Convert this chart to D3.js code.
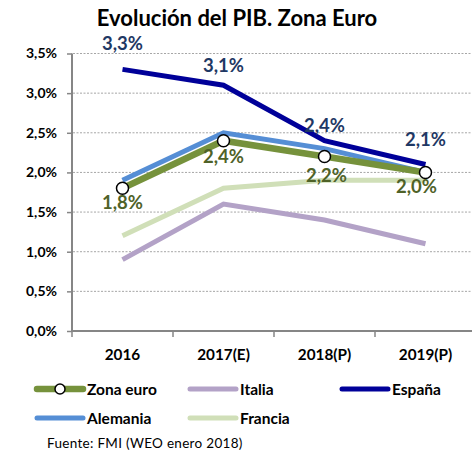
<!DOCTYPE html>
<html><head><meta charset="utf-8">
<script src="https://cdn.jsdelivr.net/npm/d3@7"></script>
<style>body{margin:0;background:#fff}svg{display:block}text{font-family:Lato,"Open Sans",sans-serif}</style>
</head><body><svg id="c" width="473" height="452"></svg>
<script>
const categories = ["2016","2017(E)","2018(P)","2019(P)"];
const zonaEuro = [1.8, 2.4, 2.2, 2.0];
const italia = [0.9, 1.6, 1.4, 1.1];
const espana = [3.3, 3.1, 2.4, 2.1];
const alemania = [1.9, 2.5, 2.3, 2.0];
const francia = [1.2, 1.8, 1.9, 1.9];
const yTicks = [0, 0.5, 1.0, 1.5, 2.0, 2.5, 3.0, 3.5];
const seriesNames = ["Zona euro","Italia","España","Alemania","Francia"];

const svg = d3.select("#c");
const fmt = v => v.toFixed(1).replace(".", ",") + "%";
const x = d3.scaleBand().domain(categories).range([72, 476]);
const y = d3.scaleLinear().domain([0, 3.5]).range([331, 53.5]);
const cx = c => x(c) + x.bandwidth()/2;

// title
svg.append("text").attr("x", 237).attr("y", 26).attr("text-anchor","middle")
  .attr("font-size", 22).attr("font-weight", 700).attr("fill","#000")
  .text("Evolución del PIB. Zona Euro");

// gridlines
svg.append("g").selectAll("line").data(yTicks.filter(t=>t>0)).join("line")
  .attr("x1", 73).attr("x2", 472).attr("y1", d=>y(d)).attr("y2", d=>y(d))
  .attr("stroke", "#a6a6a6").attr("stroke-width", 1).attr("stroke-dasharray","2,1.5");

// y axis
const yAxis = d3.axisLeft(y).tickValues(yTicks).tickFormat(fmt).tickSize(5).tickPadding(10);
const gy = svg.append("g").attr("transform","translate(72,0)").call(yAxis);
gy.select(".domain").attr("stroke","#868686").attr("stroke-width",2).attr("d","M0,"+y(0)+"V"+y(3.5));
gy.selectAll(".tick line").attr("stroke","#868686").attr("stroke-width",1.5);
gy.selectAll(".tick text").attr("font-size",14).attr("font-weight",700).attr("fill","#000")
  .attr("font-family","Lato,sans-serif");

// x axis
const xAxis = d3.axisBottom(x).tickSize(0).tickPadding(18);
const gx = svg.append("g").attr("transform","translate(0,331)").call(xAxis);
gx.select(".domain").attr("stroke","#868686").attr("stroke-width",2).attr("d","M71,0H472");
gx.selectAll(".tick text").attr("font-size",15.3).attr("font-weight",700).attr("fill","#000")
  .attr("font-family","Lato,sans-serif");
svg.append("g").selectAll("line").data(categories).join("line")
  .attr("x1", d=>x(d)).attr("x2", d=>x(d)).attr("y1",331).attr("y2",337)
  .attr("stroke","#868686").attr("stroke-width",1.5);

const line = d3.line().x((d,i)=>cx(categories[i])).y(d=>y(d));
const series = [
  {name:"Francia", data:francia, color:"#d0dfb8", w:5},
  {name:"Italia", data:italia, color:"#b3a2c7", w:5},
  {name:"Alemania", data:alemania, color:"#558ed5", w:5},
  {name:"Zona euro", data:zonaEuro, color:"#76923c", w:6.5},
  {name:"España", data:espana, color:"#000099", w:5}
];
series.forEach(s=>{
  svg.append("path").datum(s.data).attr("d", line).attr("fill","none")
    .attr("stroke", s.color).attr("stroke-width", s.w).attr("stroke-linejoin","miter");
});
// markers zona euro
svg.append("g").selectAll("circle").data(zonaEuro).join("circle")
  .attr("cx",(d,i)=>cx(categories[i])).attr("cy",d=>y(d)).attr("r",6)
  .attr("fill","#fff").attr("stroke","#000").attr("stroke-width",1.5);

// labels
const espDy = [-19, -13, -9, -19];
const espDx = [0, 0, 0, 0];
svg.append("g").selectAll("text").data(espana).join("text")
  .attr("x",(d,i)=>cx(categories[i])+espDx[i]).attr("y",(d,i)=>y(d)+espDy[i])
  .attr("text-anchor","middle").attr("font-size",18.5).attr("font-weight",700)
  .attr("fill","#1f3864").text(fmt);
const zeDy = [21, 22, 25, 21];
const zeDx = [0, 0, 2, -9];
svg.append("g").selectAll("text").data(zonaEuro).join("text")
  .attr("x",(d,i)=>cx(categories[i])+zeDx[i]).attr("y",(d,i)=>y(d)+zeDy[i])
  .attr("text-anchor","middle").attr("font-size",18.5).attr("font-weight",700)
  .attr("fill","#4f6228").text(fmt);

// legend
const leg = [
  {name:seriesNames[0], color:"#76923c", w:6.5, x:37, y:389, marker:true},
  {name:seriesNames[1], color:"#b3a2c7", w:5, x:190, y:389},
  {name:seriesNames[2], color:"#000099", w:5, x:342, y:389},
  {name:seriesNames[3], color:"#558ed5", w:5, x:37, y:418},
  {name:seriesNames[4], color:"#d0dfb8", w:5, x:190, y:418}
];
leg.forEach(l=>{
  svg.append("line").attr("x1",l.x).attr("x2",l.x+46).attr("y1",l.y).attr("y2",l.y)
    .attr("stroke",l.color).attr("stroke-width",l.w).attr("stroke-linecap","round");
  if(l.marker) svg.append("circle").attr("cx",l.x+23).attr("cy",l.y).attr("r",5)
    .attr("fill","#fff").attr("stroke","#000").attr("stroke-width",1.5);
  svg.append("text").attr("x",l.x+50).attr("y",l.y+5.5).attr("font-size",15.5)
    .attr("font-weight",700).attr("fill","#000").text(l.name);
});
svg.append("text").attr("x",47).attr("y",448).attr("font-size",13.5).attr("fill","#000")
  .attr("letter-spacing",0.3).text("Fuente: FMI (WEO enero 2018)");
</script></body></html>
